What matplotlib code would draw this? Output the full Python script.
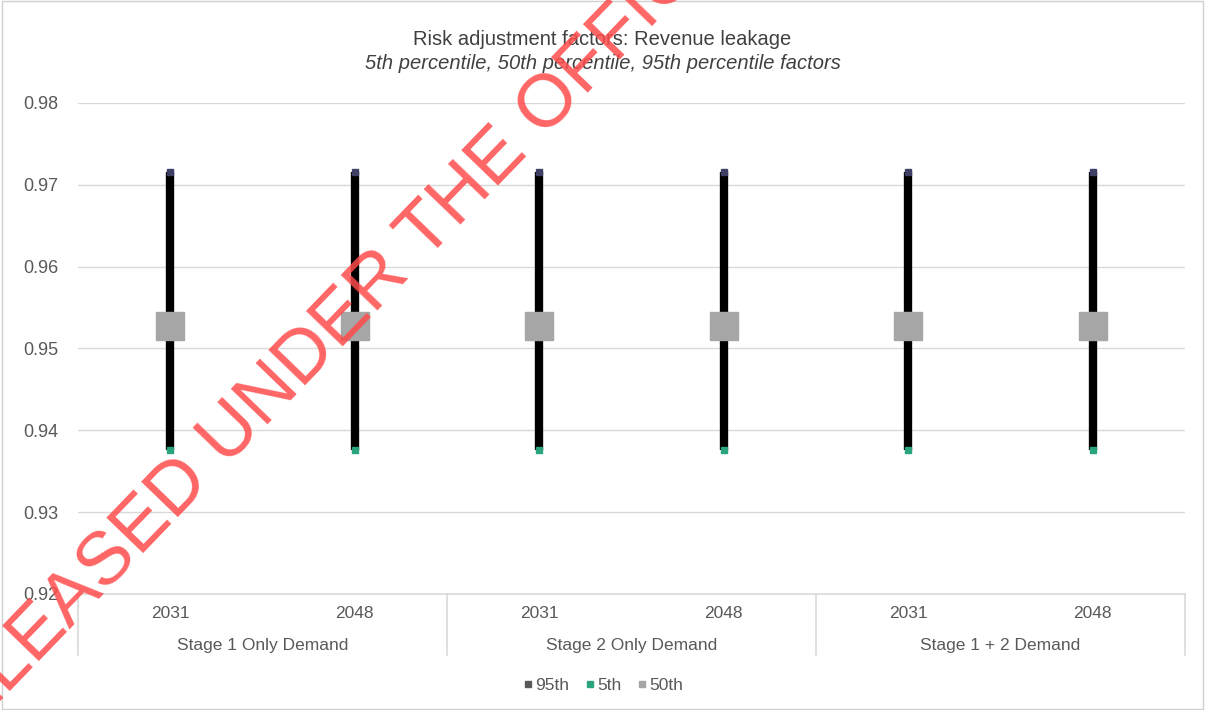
import matplotlib.pyplot as plt
import matplotlib.transforms as mtransforms
from matplotlib.patches import Rectangle

plt.rcParams['font.family'] = ['Liberation Sans', 'DejaVu Sans']

# chart data
groups = ['Stage 1 Only Demand', 'Stage 2 Only Demand', 'Stage 1 + 2 Demand']
years = ['2031', '2048', '2031', '2048', '2031', '2048']
p95 = [0.9716, 0.9716, 0.9716, 0.9716, 0.9716, 0.9716]
p5 = [0.9376, 0.9376, 0.9376, 0.9376, 0.9376, 0.9376]
p50 = [0.9527, 0.9527, 0.9527, 0.9527, 0.9527, 0.9527]
yticks = [0.92, 0.93, 0.94, 0.95, 0.96, 0.97, 0.98]

text_col = '#595959'
fig = plt.figure(figsize=(12.05, 7.1), dpi=100)
ax = fig.add_axes([0.0647, 0.1634, 0.9187, 0.6916])

x = list(range(len(years)))

# gridlines
for t in yticks[1:]:
    ax.axhline(t, color='#D9D9D9', lw=1.0, zorder=0)

# ranges (5th to 95th)
ax.vlines(x, p5, p95, color='black', lw=6, zorder=2)
ax.plot(x, p95, ls='none', marker='s', ms=5, color='#3F3F66', zorder=3, label='95th')
ax.plot(x, p5, ls='none', marker='s', ms=5, color='#2AA37E', zorder=3, label='5th')
ax.plot(x, p50, ls='none', marker='s', ms=20, color='#A6A6A6', zorder=4, label='50th')

ax.set_xlim(-0.5, len(years) - 0.5)
ax.set_ylim(0.92, 0.98)
ax.set_yticks(yticks)
ax.set_yticklabels([f'{t:.2f}' for t in yticks], color=text_col, fontsize=13)
ax.tick_params(axis='y', length=0, pad=14)
ax.set_xticks([])
for s in ['top', 'right', 'left']:
    ax.spines[s].set_visible(False)
ax.spines['bottom'].set_color('#D9D9D9')
ax.spines['bottom'].set_linewidth(1.2)

# two-level category axis
trans = mtransforms.blended_transform_factory(ax.transData, ax.transAxes)
for i, yr in enumerate(years):
    ax.text(i, -0.04, yr, transform=trans, ha='center', va='center',
            fontsize=12.5, color=text_col)
for g, name in enumerate(groups):
    ax.text(2 * g + 0.5, -0.105, name, transform=trans, ha='center', va='center',
            fontsize=12.5, color=text_col)
for b in [-0.5, 1.5, 3.5, 5.5]:
    ax.plot([b, b], [0, -0.125], transform=trans, color='#D9D9D9', lw=1.2,
            clip_on=False)

# titles
fig.text(0.5, 0.944, 'Risk adjustment factors: Revenue leakage', ha='center',
         va='center', fontsize=14.5, color='#404040')
fig.text(0.5, 0.911, '5th percentile, 50th percentile, 95th percentile factors',
         ha='center', va='center', fontsize=14.5, color='#404040', style='italic')

# legend
handles = [plt.Line2D([], [], ls='none', marker='s', ms=5, color=c)
           for c in ['#595959', '#2AA37E', '#A6A6A6']]
fig.legend(handles, ['95th', '5th', '50th'], loc='center', bbox_to_anchor=(0.5, 0.035),
           ncol=3, frameon=False, fontsize=12.5, handletextpad=0.1,
           columnspacing=0.8, handlelength=0.7, labelcolor=text_col)

# chart border
fig.patches.append(Rectangle((0.002, 0.002), 0.996, 0.996, transform=fig.transFigure,
                             fill=False, edgecolor='#D0D0D0', lw=1))

# watermark stamp
fig.text(-80 / 1205, 1 - 756 / 710, 'RELEASED UNDER THE OFFICIAL INFORMATION ACT',
         rotation=46, rotation_mode='anchor', ha='left', va='center', fontsize=54,
         color='#FF4B4B', alpha=0.85, zorder=10)

fig.savefig('out.png', dpi=100)
